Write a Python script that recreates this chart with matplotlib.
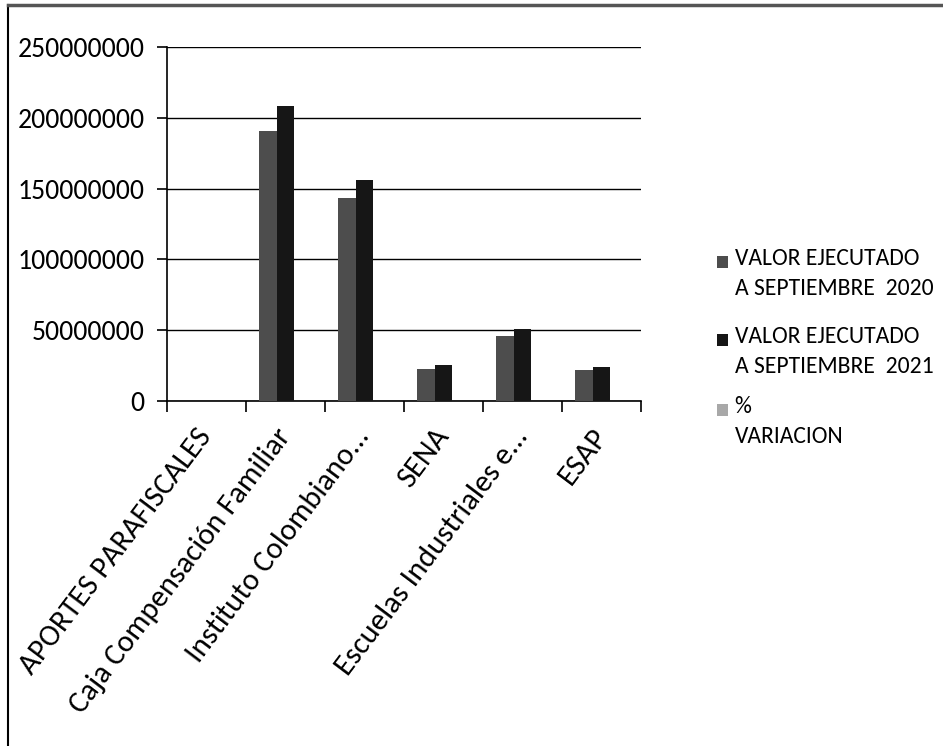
import matplotlib.pyplot as plt
import numpy as np
from matplotlib.patches import Rectangle
from matplotlib.lines import Line2D

plt.rcParams['font.family'] = ['Carlito', 'DejaVu Sans']

categorias = ['APORTES PARAFISCALES', 'Caja Compensación Familiar',
              'Instituto Colombiano...', 'SENA', 'Escuelas Industriales e...', 'ESAP']
valor_2020 = [0, 191000000, 143500000, 22600000, 46000000, 22000000]
valor_2021 = [0, 208000000, 156000000, 25500000, 51000000, 24000000]
variacion = [0, 0.089, 0.087, 0.128, 0.109, 0.091]
series = ['VALOR EJECUTADO\nA SEPTIEMBRE  2020', 'VALOR EJECUTADO\nA SEPTIEMBRE  2021', '%\nVARIACION']
colores = ['#4d4d4d', '#161616', '#a8a8a8']
yticks = [0, 50000000, 100000000, 150000000, 200000000, 250000000]

fig = plt.figure(figsize=(9.43, 7.46), dpi=100)
ax = fig.add_axes([0.177, 0.4625, 0.503, 0.4745])

x = np.arange(len(categorias))
w = 1 / 4.5
for i, (vals, c) in enumerate(zip([valor_2020, valor_2021, variacion], colores)):
    ax.bar(x + (i - 1) * w, vals, width=w, color=c, edgecolor='none', zorder=3)

ax.set_xlim(-0.5, len(categorias) - 0.5)
ax.set_ylim(0, 250000000)
ax.set_yticks(yticks)
ax.set_yticklabels([str(v) for v in yticks], fontsize=20)
ax.yaxis.grid(True, color='black', linewidth=1.0, zorder=0)
ax.spines['top'].set_visible(False)
ax.spines['right'].set_visible(False)
ax.spines['left'].set_linewidth(1.2)
ax.spines['bottom'].set_linewidth(1.2)
ax.tick_params(axis='y', length=7, width=1.2, pad=9)

ax.set_xticks(x)
ax.set_xticklabels(categorias, rotation=53, ha='right', va='center', rotation_mode='anchor', fontsize=22)
ax.tick_params(axis='x', which='major', length=0, pad=22)
ax.set_xticks(np.arange(-0.5, len(categorias)), minor=True)
ax.tick_params(axis='x', which='minor', length=8, width=1.2, direction='out')

# legend drawn at the right, markers aligned with the first text line
ly = [0.649, 0.544, 0.450]
for yy, lab, c in zip(ly, series, colores):
    fig.patches.append(Rectangle((0.760, yy - 0.008), 0.0125, 0.016, transform=fig.transFigure,
                                 facecolor=c, edgecolor='none'))
    fig.text(0.779, yy + 0.019, lab, fontsize=17, va='top', ha='left', linespacing=1.55)

# scanned page frame
fig.add_artist(Line2D([0.009, 0.009], [0.0, 0.993], color='black', linewidth=1.5, transform=fig.transFigure))
fig.add_artist(Line2D([0.009, 1.0], [0.993, 0.993], color='#555555', linewidth=2.5, transform=fig.transFigure))

fig.savefig('out.png', dpi=100)
